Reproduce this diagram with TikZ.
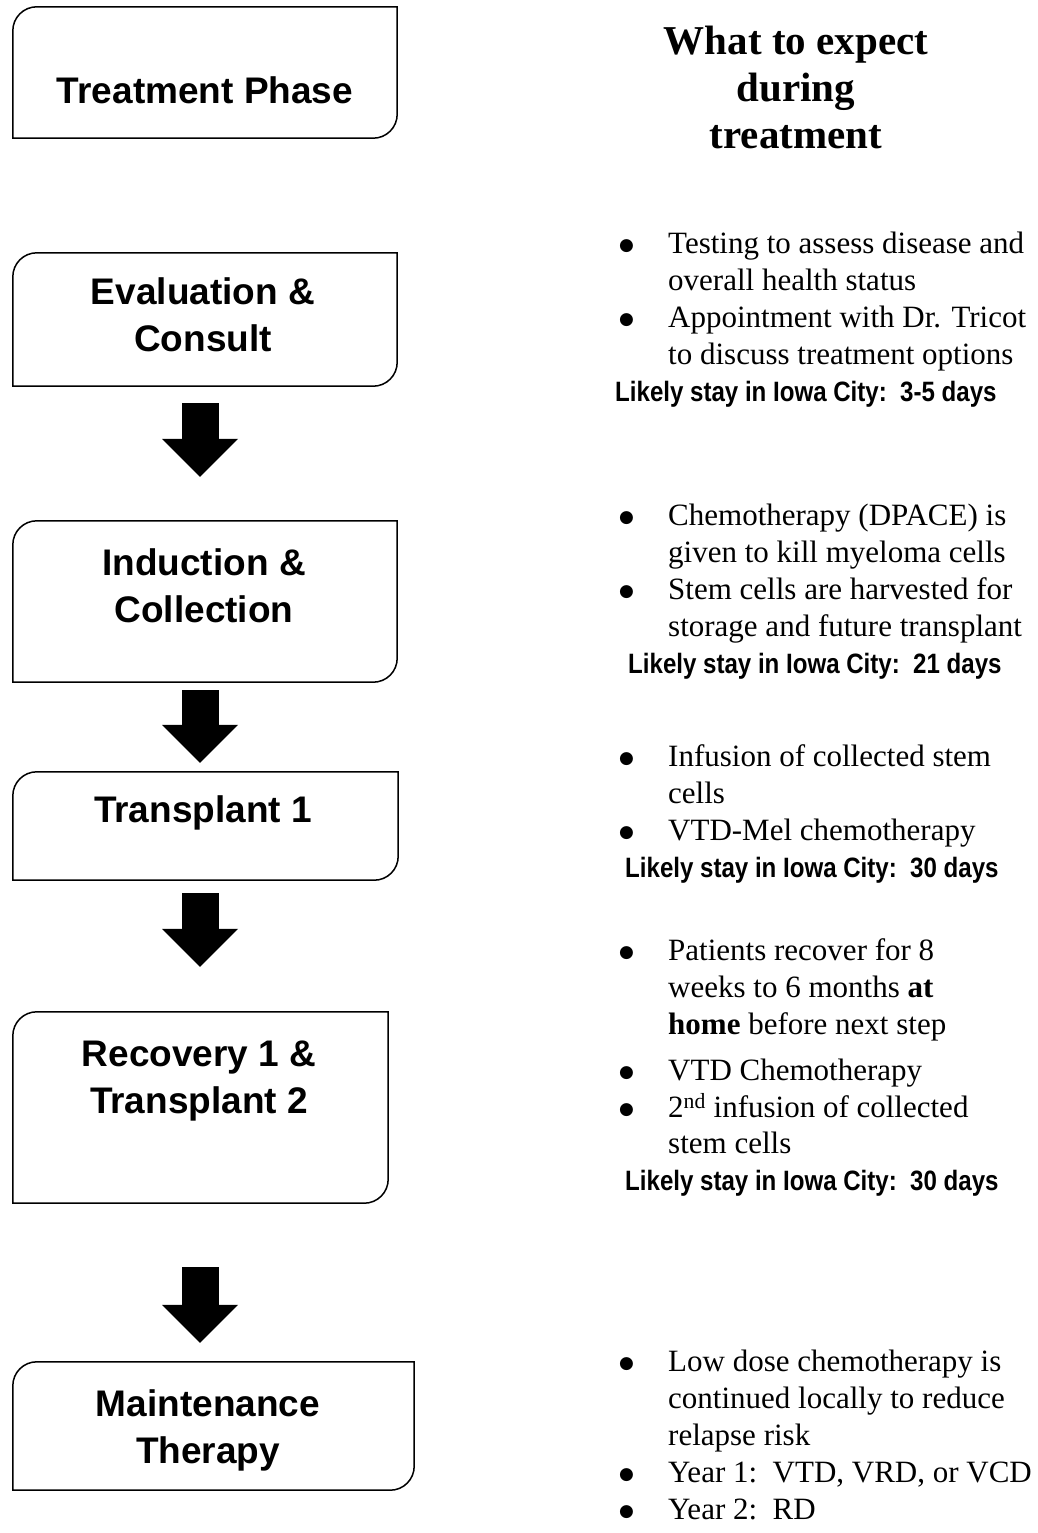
\documentclass[tikz,border=0pt]{standalone}
\usepackage{fontspec}
\setmainfont{Liberation Serif}
\newfontfamily\phasefont{Liberation Sans}
\newfontfamily\stayfont[FakeStretch=0.86]{Liberation Sans}
\newfontfamily\dotfont{DejaVu Sans}
\usetikzlibrary{arrows.meta,positioning,calc}

\newcommand{\dotitem}{\makebox[53pt][l]{\hspace*{4pt}\raisebox{3pt}{\dotfont\fontsize{17}{17}\selectfont ●}}}
\newcommand{\staytext}[1]{\multicolumn{2}{@{}l@{}}{\stayfont\bfseries\fontsize{28}{36.8}\selectfont #1}}
\newcommand{\phaseframe}[1]{%
  \draw[frame] ([yshift=-24pt]#1.north west) arc[start angle=180,end angle=90,radius=24pt]
    -- (#1.north east) -- ([yshift=24pt]#1.south east)
    arc[start angle=0,end angle=-90,radius=24pt] -- (#1.south west) -- cycle;}

\begin{document}
\begin{tikzpicture}[
  x=1pt,y=-1pt,
  box/.style={rectangle,inner sep=0pt},
  frame/.style={line width=1.5pt},
  phase/.style={font=\phasefont\bfseries\fontsize{37}{47}\selectfont,align=center,inner sep=0pt},
  expect/.style={font=\bfseries\fontsize{41}{47}\selectfont,align=center,inner sep=0pt},
  info/.style={anchor=north west,inner sep=0pt,font=\fontsize{31}{36.8}\selectfont},
  bigarrow/.style={line width=37pt,-{Triangle[width=76pt,length=38pt,line width=0pt]}}
]
  \useasboundingbox (0,0) rectangle (1037,1533);

  % phase boxes on the left
  \node[box,minimum width=384pt,minimum height=131pt] (start) at (205,72.5) {};
  \node[box,minimum width=384pt,minimum height=133pt] (eval) at (205,319.5) {};
  \node[box,minimum width=384pt,minimum height=161pt] (induct) at (205,601.5) {};
  \node[box,minimum width=385pt,minimum height=108pt] (trans) at (205.5,826) {};
  \node[box,minimum width=375pt,minimum height=191pt] (recov) at (200.5,1107.5) {};
  \node[box,minimum width=401pt,minimum height=128pt] (maint) at (213.5,1426) {};
  \phaseframe{start}
  \phaseframe{eval}
  \phaseframe{induct}
  \phaseframe{trans}
  \phaseframe{recov}
  \phaseframe{maint}

  \node[phase] (starttext) at (205,90) {Treatment Phase};
  \node[phase] (evaltext) at (203,315) {Evaluation \&\\Consult};
  \node[phase] (inducttext) at (204,585.5) {Induction \&\\Collection};
  \node[phase] (transtext) at (203,812.5) {Transplant 1};
  \node[phase] (recovtext) at (199,1081.5) {Recovery 1 \&\\Transplant 2};
  \node[phase] (mainttext) at (208,1430.5) {Maintenance\\Therapy};

  % block arrows
  \draw[bigarrow] ([xshift=-5pt,yshift=-17pt]eval.south) -- ([xshift=-5pt,yshift=44pt]induct.north);
  \draw[bigarrow] ([xshift=-5pt,yshift=-8pt]induct.south) -- ([xshift=-5.5pt,yshift=9pt]trans.north);
  \draw[bigarrow] ([xshift=-5.5pt,yshift=-13pt]trans.south) -- ([xshift=-0.5pt,yshift=45pt]recov.north);
  \draw[bigarrow] ([xshift=-0.5pt,yshift=-64pt]recov.south) -- ([xshift=-13.5pt,yshift=19pt]maint.north);

  % what to expect, on the right
  \node[expect] (expect) at (796,87) {What to expect\\during\\treatment};

  \node[info] (evalinfo) at (615,228) {\begin{tabular}{@{}l@{}l@{}}
    \dotitem & Testing to assess disease and\\
    & overall health status\\
    \dotitem & Appointment with Dr. Tricot\\
    & to discuss treatment options\\
    \staytext{Likely stay in Iowa City:\ \ 3-5 days}
  \end{tabular}};

  \node[info] (inductinfo) at (615,500) {\begin{tabular}{@{}l@{}l@{}}
    \dotitem & Chemotherapy (DPACE) is\\
    & given to kill myeloma cells\\
    \dotitem & Stem cells are harvested for\\
    & storage and future transplant\\
    \staytext{\hspace*{13pt}Likely stay in Iowa City:\ \ 21 days}
  \end{tabular}};

  \node[info] (transinfo) at (615,741) {\begin{tabular}{@{}l@{}l@{}}
    \dotitem & Infusion of collected stem\\
    & cells\\
    \dotitem & VTD-Mel chemotherapy\\
    \staytext{\hspace*{10pt}Likely stay in Iowa City:\ \ 30 days}
  \end{tabular}};

  \node[info] (recovinfo) at (615,935) {\begin{tabular}{@{}l@{}l@{}}
    \dotitem & Patients recover for 8\\
    & weeks to 6 months \textbf{at}\\
    & \textbf{home} before next step\\[9pt]
    \dotitem & VTD Chemotherapy\\
    \dotitem & 2\textsuperscript{nd} infusion of collected\\
    & stem cells\\
    \staytext{\hspace*{10pt}Likely stay in Iowa City:\ \ 30 days}
  \end{tabular}};

  \node[info] (maintinfo) at (615,1346) {\begin{tabular}{@{}l@{}l@{}}
    \dotitem & Low dose chemotherapy is\\
    & continued locally to reduce\\
    & relapse risk\\
    \dotitem & Year 1:\ \ VTD, VRD, or VCD\\
    \dotitem & Year 2:\ \ RD
  \end{tabular}};
\end{tikzpicture}
\end{document}
